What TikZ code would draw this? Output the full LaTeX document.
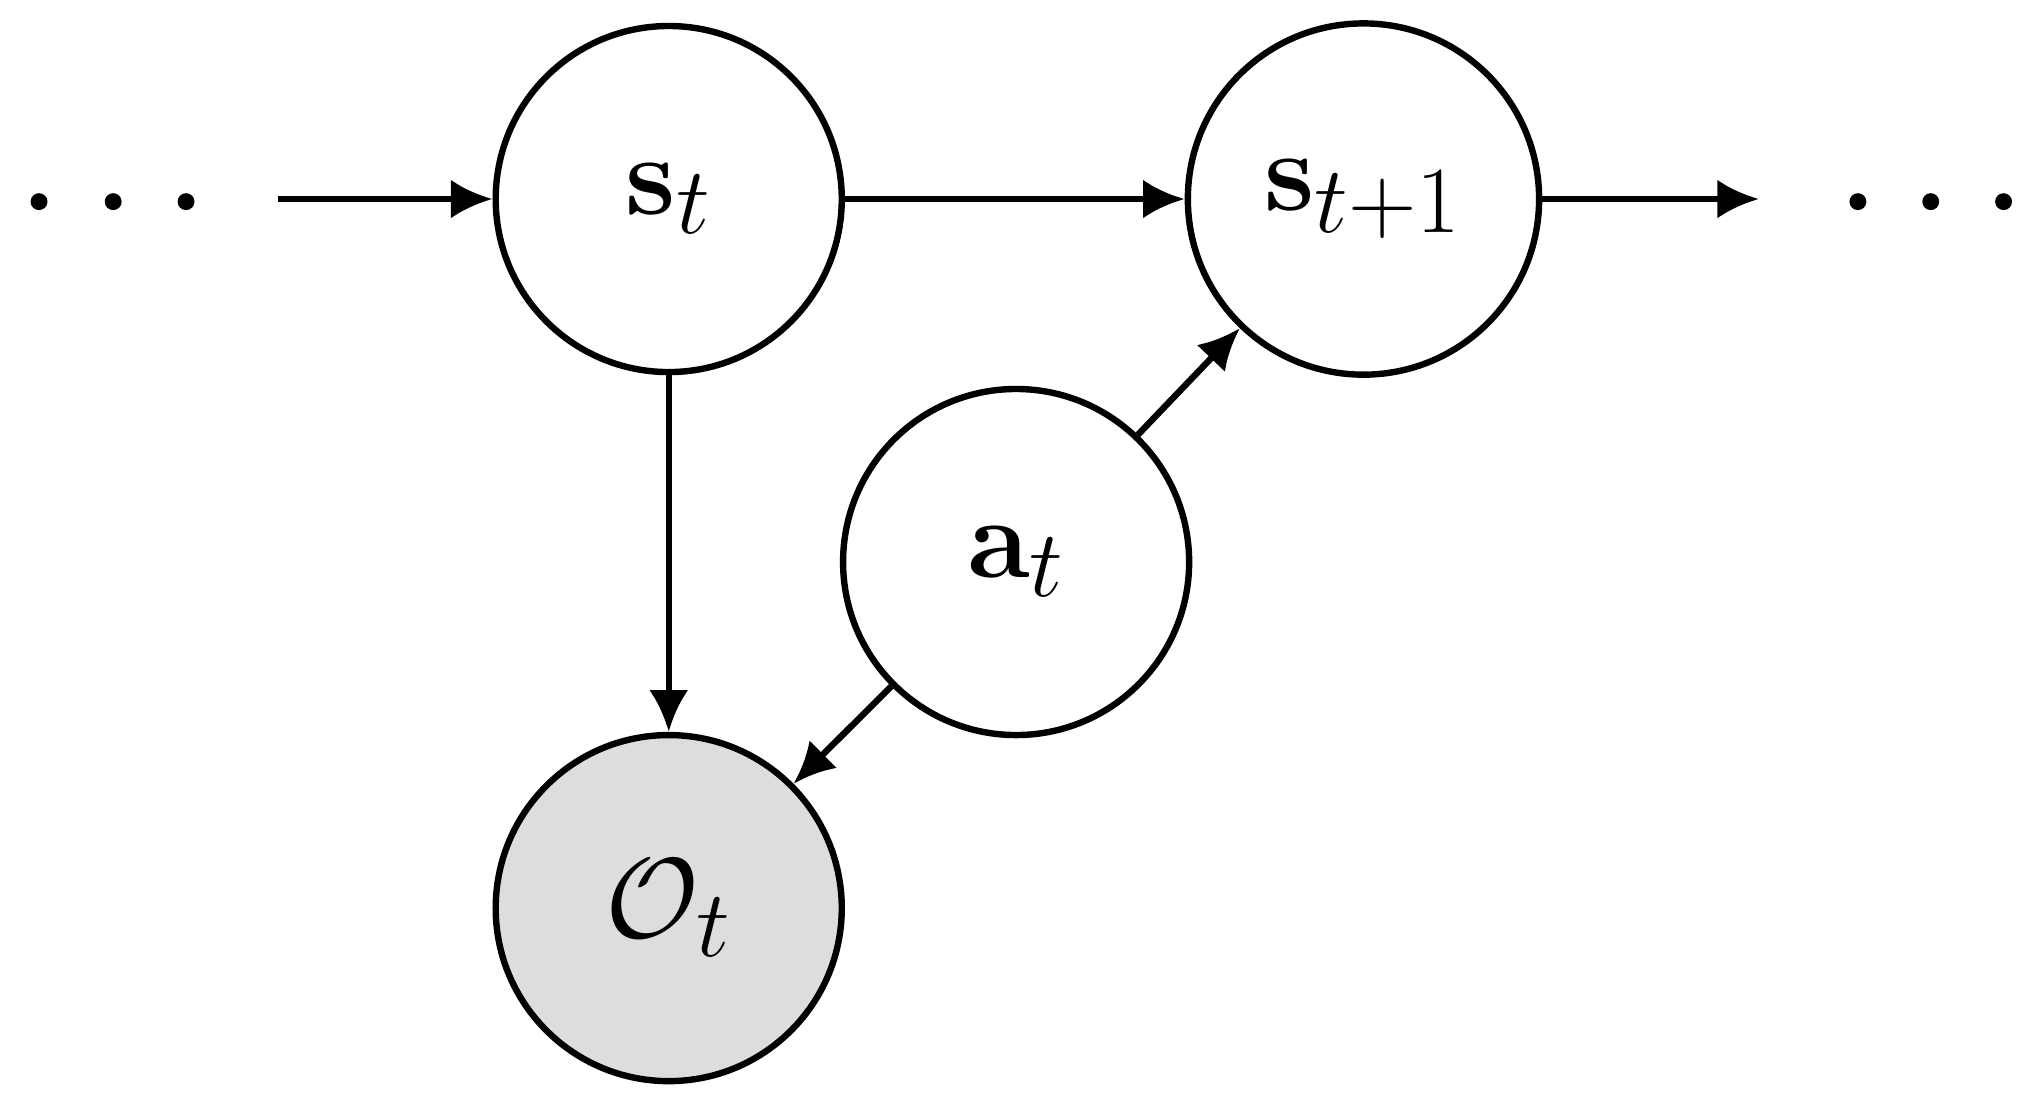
\documentclass[tikz,border=0pt]{standalone}
\usetikzlibrary{arrows.meta}
\definecolor{obsgray}{RGB}{220,221,223}
\begin{document}
\begin{tikzpicture}[x=1cm,y=1cm,
  var/.style={circle,draw,line width=1.4pt,minimum size=2.66cm,inner sep=0pt,font=\Huge},
  arr/.style={line width=1.4pt,-{Latex[length=0.32cm,width=0.3cm]}},
  dot/.style={circle,fill,inner sep=0pt,minimum size=0.13cm}]
\useasboundingbox (0,0) rectangle (15.68,8.52);
\node[var] (s) at (5.14,6.99) {$\mathbf{s}_t$};
\node[var,minimum size=2.7cm] (s1) at (10.48,6.99) {$\mathbf{s}_{t+1}$};
\node[var] (a) at (7.81,4.20) {$\mathbf{a}_t$};
\node[var,fill=obsgray] (o) at (5.14,1.54) {$\mathcal{O}_t$};
\node[dot] (l1) at (0.30,6.97) {};
\node[dot] (l2) at (0.87,6.97) {};
\node[dot] (l3) at (1.43,6.97) {};
\node[dot] (r1) at (14.28,6.97) {};
\node[dot] (r2) at (14.84,6.97) {};
\node[dot] (r3) at (15.40,6.97) {};
\coordinate (lin) at (2.14,6.99);
\coordinate (rout) at (13.52,6.99);
\draw[arr] (lin) -- (s);
\draw[arr] (s) -- (s1);
\draw[arr] (s1) -- (rout);
\draw[arr] (s) -- (o);
\draw[arr] (a) -- (s1);
\draw[arr] (a) -- (o);
\end{tikzpicture}
\end{document}
